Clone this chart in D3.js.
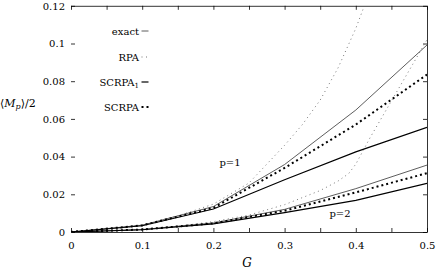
<!DOCTYPE html>
<html><head><meta charset="utf-8">
<script src="https://cdn.jsdelivr.net/npm/d3@7"></script>
<style>
body{margin:0;background:#fff}
svg{display:block;font-family:"DejaVu Serif",serif;font-size:10px}
</style>
</head><body>
<svg id="c" width="436" height="271"></svg>
<script>
// ---- data ----
const G = [0, 0.1, 0.2, 0.3, 0.4, 0.5];
const exactP1  = [0, 0.0036, 0.0135, 0.0358, 0.0647, 0.0992];
const scrpa1P1 = [0, 0.0033, 0.0122, 0.0277, 0.0425, 0.0555];
const scrpaP1  = [0, 0.0035, 0.0128, 0.0340, 0.0570, 0.0835];
const exactP2  = [0, 0.0013, 0.0048, 0.0120, 0.0230, 0.0355];
const scrpa1P2 = [0, 0.0012, 0.0043, 0.0103, 0.0168, 0.0258];
const scrpaP2  = [0, 0.0013, 0.0046, 0.0113, 0.0210, 0.0312];
const G_rpa1 = [0, 0.05, 0.1, 0.15, 0.2, 0.25, 0.3, 0.325, 0.35, 0.375, 0.4, 0.41];
const rpaP1  = [0, 0.0009, 0.0038, 0.0085, 0.0148, 0.026, 0.046, 0.057, 0.070, 0.087, 0.108, 0.118];
const G_rpa2 = [0, 0.05, 0.1, 0.15, 0.2, 0.25, 0.3, 0.35, 0.375, 0.39, 0.4, 0.42, 0.44, 0.46, 0.48, 0.5];
const rpaP2  = [0, 0.0004, 0.0014, 0.003, 0.0055, 0.009, 0.0145, 0.022, 0.027, 0.031, 0.036, 0.050, 0.063, 0.076, 0.089, 0.102];
const xTicks = [0, 0.05, 0.1, 0.15, 0.2, 0.25, 0.3, 0.35, 0.4, 0.45, 0.5];
const xTickLabels = ["0", "", "0.1", "", "0.2", "", "0.3", "", "0.4", "", "0.5"];
const yTicks = [0, 0.02, 0.04, 0.06, 0.08, 0.1, 0.12];
const yTickLabels = ["0", "0.02", "0.04", "0.06", "0.08", "0.1", "0.12"];
const legendNames = ["exact", "RPA", "SCRPA", "SCRPA"];
const legendSubs = ["", "", "1", ""];

// ---- layout ----
const svg = d3.select("#c");
const L = 71, R = 427, T = 5.8, B = 232;
const x = d3.scaleLinear().domain([0, 0.5]).range([L, R]);
const y = d3.scaleLinear().domain([0, 0.12]).range([B, T]);

const styles = {
  exact:  {stroke:"#333", width:0.8, dash:null},
  rpa:    {stroke:"#777", width:1.0, dash:"1,3.5"},
  scrpa1: {stroke:"#000", width:1.2, dash:null},
  scrpa:  {stroke:"#000", width:2.0, dash:"2,3"}
};

// axes
const fmtX = d => xTickLabels[xTicks.indexOf(d)];
const fmtY = d => yTickLabels[yTicks.indexOf(d)];
const gB = svg.append("g").attr("transform",`translate(0,${B})`)
  .call(d3.axisBottom(x).tickValues(xTicks).tickSizeInner(-4).tickSizeOuter(0).tickPadding(10).tickFormat(fmtX));
const gT = svg.append("g").attr("transform",`translate(0,${T})`)
  .call(d3.axisTop(x).tickValues(xTicks).tickSizeInner(-4).tickSizeOuter(0).tickFormat(""));
const gL = svg.append("g").attr("transform",`translate(${L},0)`)
  .call(d3.axisLeft(y).tickValues(yTicks).tickSizeInner(-4).tickSizeOuter(0).tickPadding(6).tickFormat(fmtY));
const gR = svg.append("g").attr("transform",`translate(${R},0)`)
  .call(d3.axisRight(y).tickValues(yTicks).tickSizeInner(-4).tickSizeOuter(0).tickFormat(""));
gL.select(".domain").remove();
[gB,gT,gL,gR].forEach(g=>{
  g.attr("font-family","DejaVu Serif").attr("font-size",10);
  g.selectAll("text").attr("fill","#000");
  g.selectAll("line").attr("stroke","#000").attr("stroke-width",0.8);
  g.selectAll(".domain").attr("stroke","#000").attr("stroke-width",0.8);
});

// curves
const line = d3.line().x(d=>x(d[0])).y(d=>y(d[1]));
svg.append("clipPath").attr("id","pc").append("rect")
  .attr("x",L).attr("y",T).attr("width",R-L).attr("height",B-T);
const plot = svg.append("g").attr("clip-path","url(#pc)");
function draw(gs, vs, st){
  plot.append("path").datum(d3.zip(gs, vs)).attr("d", line)
    .attr("fill","none").attr("stroke",st.stroke).attr("stroke-width",st.width)
    .attr("stroke-dasharray",st.dash);
}
draw(G, exactP1, styles.exact);
draw(G, exactP2, styles.exact);
draw(G_rpa1, rpaP1, styles.rpa);
draw(G_rpa2, rpaP2, styles.rpa);
draw(G, scrpa1P1, styles.scrpa1);
draw(G, scrpa1P2, styles.scrpa1);
draw(G, scrpaP1, styles.scrpa);
draw(G, scrpaP2, styles.scrpa);

// legend
const legStyles = [styles.exact, styles.rpa, styles.scrpa1, styles.scrpa];
const legY = [31, 57, 82, 107];
legendNames.forEach((n,i)=>{
  const t = svg.append("text").attr("x",139).attr("y",legY[i]+3.5).attr("text-anchor","end")
    .style("font-size","10px");
  t.append("tspan").text(n);
  if (legendSubs[i]) t.append("tspan").style("font-size","7px").attr("dy",2).text(legendSubs[i]);
  svg.append("line").attr("x1",141.5).attr("x2",148.5).attr("y1",legY[i]).attr("y2",legY[i])
    .attr("stroke",legStyles[i].stroke).attr("stroke-width",legStyles[i].width)
    .attr("stroke-dasharray",legStyles[i].dash);
});

// labels
const yl = svg.append("text").attr("x",0).attr("y",107).style("font-size","11px");
yl.append("tspan").text("\u27E8");
yl.append("tspan").style("font-style","italic").text("M");
yl.append("tspan").style("font-style","italic").style("font-size","8px").attr("dy",2).text("p");
yl.append("tspan").attr("dy",-2).text("\u27E9/2");
svg.append("text").attr("x",247).attr("y",267).attr("text-anchor","middle")
  .style("font-style","italic").style("font-size","12px").text("G");
svg.append("text").attr("x",230).attr("y",165.5).attr("text-anchor","middle").text("p=1");
svg.append("text").attr("x",340).attr("y",217).attr("text-anchor","middle").text("p=2");
</script>
</body></html>
